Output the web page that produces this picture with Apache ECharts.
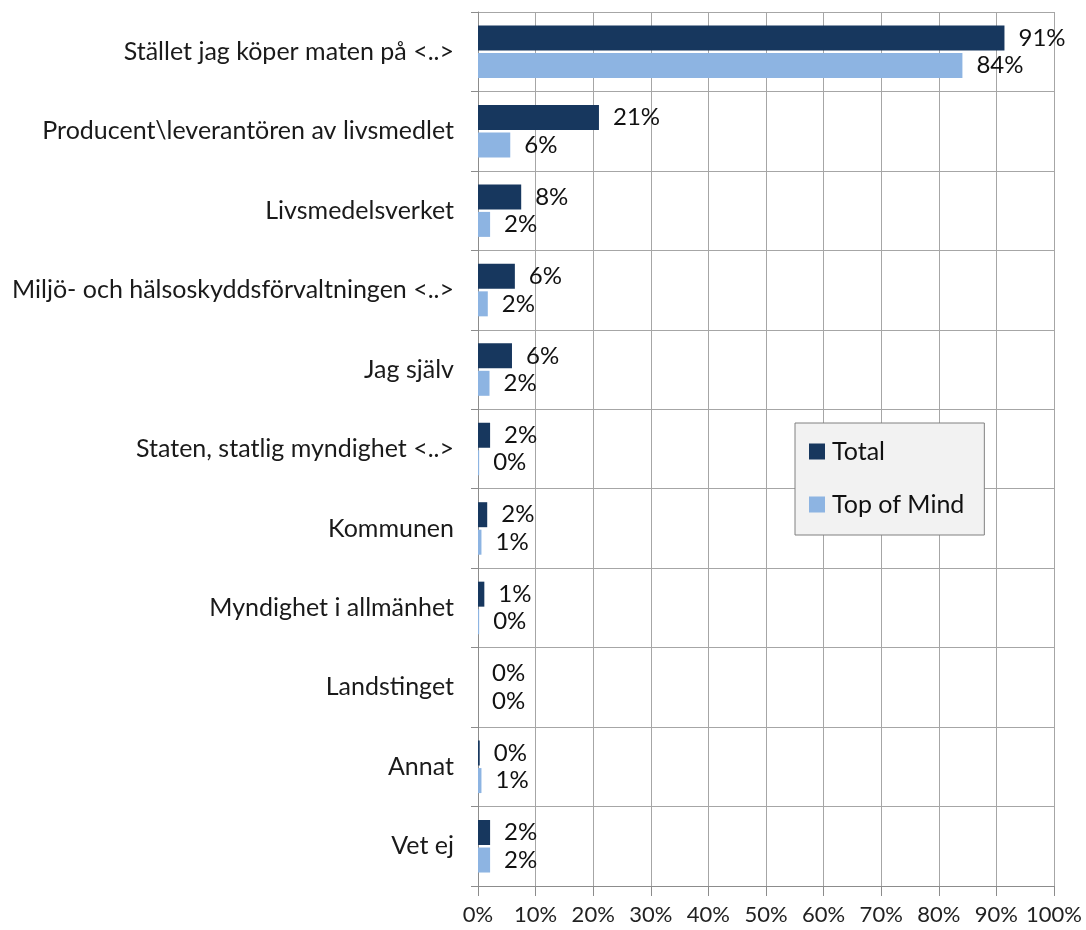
<!doctype html>
<html>
    <head>
        <meta charset="utf-8">
        <title>Källor - bar</title>
        <style>
            html, body { margin: 0; padding: 0; background: #fff; }
            #main { width: 1086px; height: 930px; }
        </style>
    </head>
    <body>
        <div id="main"></div>
        <script src="https://cdn.jsdelivr.net/npm/echarts@6/dist/echarts.min.js"></script>
        <script>
            var chart = echarts.init(document.getElementById('main'));

            var categories = [
                'Stället jag köper maten på <..>',
                'Producent\\leverantören av livsmedlet',
                'Livsmedelsverket',
                'Miljö- och hälsoskyddsförvaltningen <..>',
                'Jag själv',
                'Staten, statlig myndighet <..>',
                'Kommunen',
                'Myndighet i allmänhet',
                'Landstinget',
                'Annat',
                'Vet ej'
            ];
            var total = [91.4, 21.0, 7.5, 6.4, 5.9, 2.1, 1.6, 1.1, 0, 0.3, 2.1];
            var topOfMind = [84.1, 5.6, 2.1, 1.7, 2.0, 0.2, 0.6, 0.2, 0, 0.6, 2.1];

            var FONT = 'Lato';
            var labelFmt = function (p) {
                return Math.round(p.value) + '%';
            };

            chart.setOption({
                animation: false,
                textStyle: { fontFamily: FONT },
                grid: {
                    left: 478,
                    right: 32,
                    top: 12,
                    bottom: 44,
                    containLabel: false
                },
                legend: {
                    orient: 'vertical',
                    left: 795,
                    top: 423,
                    width: 160,
                    padding: [16, 20, 18, 14],
                    backgroundColor: '#f2f2f2',
                    borderColor: '#808080',
                    borderWidth: 1,
                    itemWidth: 16,
                    itemHeight: 16,
                    itemGap: 28,
                    icon: 'rect',
                    textStyle: {
                        fontFamily: FONT,
                        fontSize: 25,
                        color: '#111',
                        padding: [0, 0, 0, 2]
                    },
                    data: ['Total', 'Top of Mind']
                },
                xAxis: {
                    type: 'value',
                    min: 0,
                    max: 100,
                    interval: 10,
                    axisLine: { show: true, lineStyle: { color: '#8c8c8c' } },
                    axisTick: { show: true, length: 10, lineStyle: { color: '#8c8c8c' } },
                    splitLine: { show: true, lineStyle: { color: '#a6a6a6', width: 1 } },
                    axisLabel: {
                        formatter: '{value}%',
                        fontFamily: FONT,
                        fontSize: 22,
                        color: '#222',
                        margin: 18
                    }
                },
                yAxis: {
                    type: 'category',
                    inverse: true,
                    data: categories,
                    axisLine: { show: true, lineStyle: { color: '#8c8c8c' } },
                    axisTick: { show: true, length: 7, lineStyle: { color: '#8c8c8c' } },
                    splitLine: { show: true, lineStyle: { color: '#a6a6a6', width: 1 } },
                    axisLabel: {
                        fontFamily: FONT,
                        fontSize: 25,
                        color: '#1a1a1a',
                        margin: 24
                    }
                },
                series: [{
                    name: 'Total',
                    type: 'bar',
                    data: total,
                    barWidth: 25,
                    barGap: '10%',
                    itemStyle: { color: '#17375e' },
                    label: {
                        show: true,
                        position: 'right',
                        distance: 14,
                        formatter: labelFmt,
                        fontFamily: FONT,
                        fontSize: 24,
                        color: '#111'
                    }
                }, {
                    name: 'Top of Mind',
                    type: 'bar',
                    data: topOfMind,
                    barWidth: 25,
                    itemStyle: { color: '#8db4e2' },
                    label: {
                        show: true,
                        position: 'right',
                        distance: 14,
                        formatter: labelFmt,
                        fontFamily: FONT,
                        fontSize: 24,
                        color: '#111'
                    }
                }]
            });

            window.addEventListener('resize', function () {
                chart.resize();
            });
        </script>
    </body>
</html>
